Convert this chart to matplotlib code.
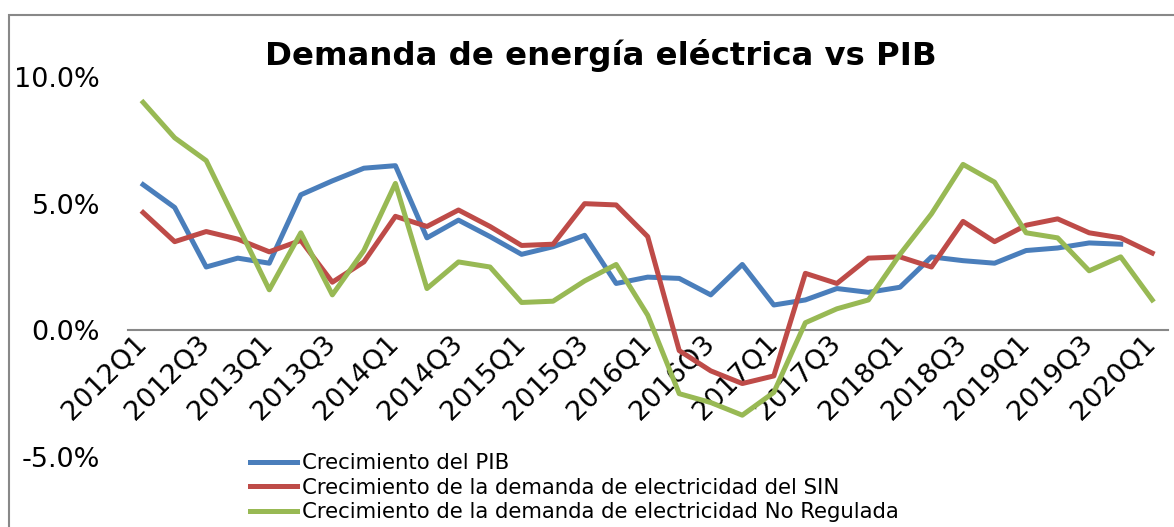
import matplotlib.pyplot as plt
from matplotlib.patches import Rectangle
from matplotlib.ticker import FuncFormatter

# quarters 2012Q1 .. 2020Q1
quarters = [f"{y}Q{q}" for y in range(2012, 2021) for q in range(1, 5)][:33]

pib = [5.75, 4.85, 2.5, 2.85, 2.65, 5.35, 5.9, 6.4, 6.5, 3.65, 4.35, 3.7, 3.0,
       3.3, 3.75, 1.85, 2.1, 2.05, 1.4, 2.6, 1.0, 1.2, 1.65, 1.5, 1.7, 2.9,
       2.75, 2.65, 3.15, 3.25, 3.45, 3.4]
sin = [4.65, 3.5, 3.9, 3.6, 3.1, 3.55, 1.9, 2.7, 4.5, 4.1, 4.75, 4.1, 3.35,
       3.4, 5.0, 4.95, 3.7, -0.8, -1.6, -2.1, -1.8, 2.25, 1.85, 2.85, 2.9,
       2.5, 4.3, 3.5, 4.15, 4.4, 3.85, 3.65, 3.05]
no_reg = [9.0, 7.6, 6.7, 4.15, 1.6, 3.85, 1.4, 3.15, 5.8, 1.65, 2.7, 2.5, 1.1,
          1.15, 1.95, 2.6, 0.6, -2.5, -2.85, -3.35, -2.45, 0.3, 0.85, 1.2,
          3.0, 4.6, 6.55, 5.85, 3.85, 3.65, 2.35, 2.9, 1.2]

labels = ["Crecimiento del PIB",
          "Crecimiento de la demanda de electricidad del SIN",
          "Crecimiento de la demanda de electricidad No Regulada"]
colors = ["#4A7EBB", "#BE4B48", "#98B954"]

fig = plt.figure(figsize=(11.74, 5.27), dpi=100)
ax = fig.add_axes([128/1174, 1-457/527, 1040/1174, 380/527])

# axis line through zero (set first, it resets the ticks)
for s in ['top', 'right', 'left']:
    ax.spines[s].set_visible(False)
ax.spines['bottom'].set_position(('data', 0))
ax.spines['bottom'].set_color('#888888')
ax.spines['bottom'].set_linewidth(1.5)

for vals, lab, c in zip([pib, sin, no_reg], labels, colors):
    ax.plot(range(len(vals)), vals, color=c, lw=3.6, label=lab, zorder=3)

ax.set_xlim(-0.48, 32.5)
ax.set_ylim(-5, 10)
ax.set_yticks([-5, 0, 5, 10])
ax.yaxis.set_major_formatter(FuncFormatter(lambda v, p: f"{v:.1f}%"))
ax.set_xticks(range(0, 33, 2))
ax.tick_params(axis='both', length=0, labelsize=19.5)
ax.tick_params(axis='y', pad=20)
ax.tick_params(axis='x', pad=7)
ax.set_xticklabels(quarters[::2], rotation=45, ha='right', va='center',
                   rotation_mode='anchor')

fig.text(0.512, 1-56/527, "Demanda de energía eléctrica vs PIB", ha='center',
         va='center', fontsize=23.3, fontweight='bold')

fig.legend(loc='upper left', bbox_to_anchor=(250/1174, 1-453/527),
           frameon=False, fontsize=15.3, labelspacing=0.22, handlelength=2.2,
           handletextpad=0.25, borderpad=0, borderaxespad=0)

fig.patches.append(Rectangle((9/1174, -0.1), 1.1, 1.1-15/527,
                             transform=fig.transFigure, fill=False,
                             edgecolor='#888888', lw=1.5))

plt.savefig("out.png", dpi=100)
